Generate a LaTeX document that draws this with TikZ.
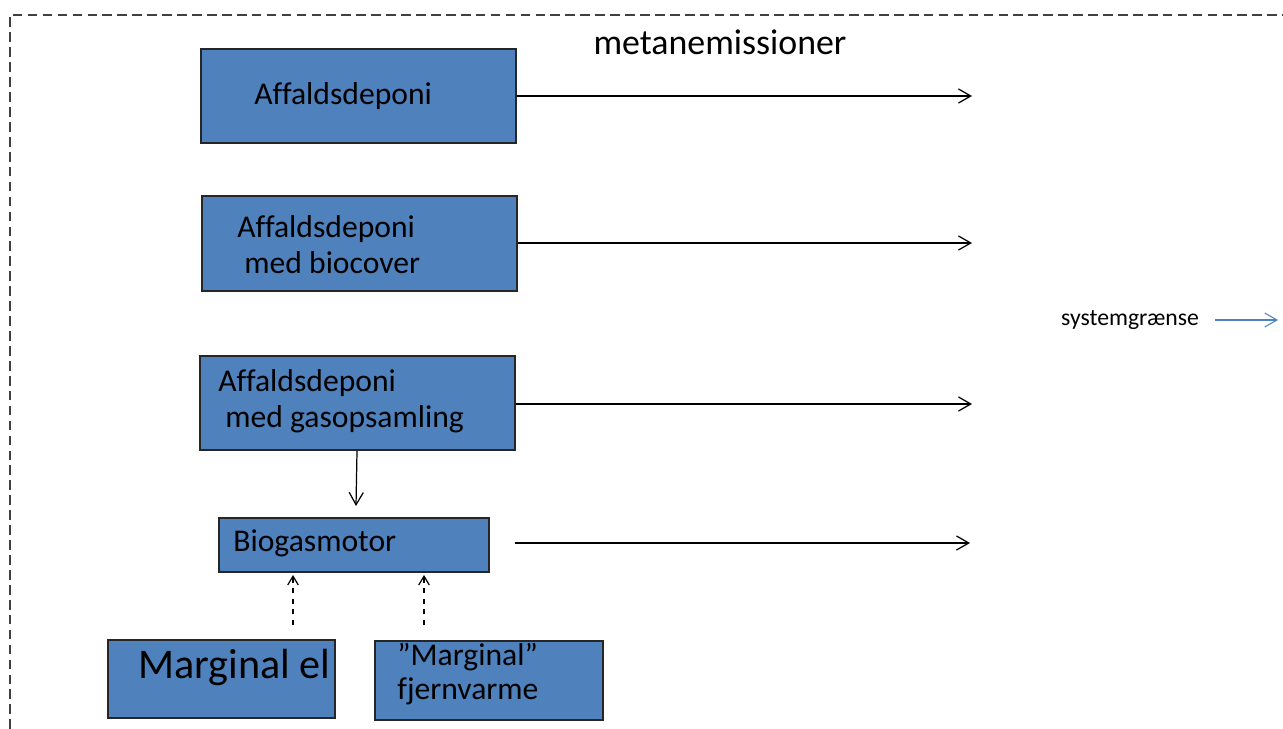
\documentclass[tikz,border=0pt]{standalone}
\usepackage{fontspec}
\setmainfont{Carlito}[Ligatures={NoCommon}]
\usetikzlibrary{arrows.meta}
\definecolor{boxblue}{HTML}{4F81BD}
\definecolor{bordergray}{HTML}{404040}

\begin{document}
\begin{tikzpicture}[x=0.02cm,y=-0.02cm,
    box/.style={draw=black!85,line width=0.8pt,fill=boxblue,inner sep=0pt},
    lbl/.style={anchor=west,inner sep=0pt,align=left,font=\fontsize{18}{20.5}\selectfont},
    flow/.style={line width=0.7pt,-{Straight Barb[length=7pt,width=8pt]}},
    feed/.style={line width=0.7pt,dashed,-{Straight Barb[length=5pt,width=6pt]}}]
\useasboundingbox (0,0) rectangle (1283,729);

% system boundary
\draw[bordergray,line width=1pt,dash pattern=on 5.5pt off 3pt] (10,729)--(10,15)--(1283,15);

\node[font=\fontsize{20.4}{24}\selectfont] (title) at (720,42) {metanemissioner};

% boxes
\node[box,minimum width=6.3cm,minimum height=1.88cm] (dep) at (358.5,96) {};
\node[box,minimum width=6.3cm,minimum height=1.9cm] (bio) at (359.5,243.5) {};
\node[box,minimum width=6.3cm,minimum height=1.88cm] (gas) at (357.5,403) {};
\node[box,minimum width=5.4cm,minimum height=1.08cm] (mot) at (354,545) {};
\node[box,minimum width=4.54cm,minimum height=1.56cm] (el) at (221.5,679) {};
\node[box,minimum width=4.56cm,minimum height=1.58cm] (fjv) at (489,680.5) {};

% texts
\node[lbl] (depT) at (254,96) {Affaldsdeponi};
\node[lbl] (bioT) at (237,245) {Affaldsdeponi\\\hspace*{4pt}med biocover};
\node[lbl] (gasT) at (218,401) {Affaldsdeponi\\\hspace*{4pt}med gasopsamling};
\node[lbl] (motT) at (233,543) {Biogasmotor};
\node[lbl,font=\fontsize{24}{28}\selectfont] (elT) at (138,667) {Marginal el};
\node[lbl,font=\fontsize{18}{19.3}\selectfont] (fjvT) at (397,674) {”Marginal”\\fjernvarme};

% emissions
\coordinate (depE) at (972,96);
\coordinate (bioE) at (972,243);
\coordinate (gasE) at (972,404);
\coordinate (motS) at (515,543);
\coordinate (motE) at (970,543);
\draw[flow] (dep.east) -- (depE);
\draw[flow] (bio.east|-bioE) -- (bioE);
\draw[flow] (gas.east|-gasE) -- (gasE);
\draw[flow] (motS) -- (motE);

% gas to motor
\coordinate (gasD) at (357,451);
\coordinate (motU) at (356,506);
\draw[flow] (gasD) -- (motU);

% substituted energy
\coordinate (elU) at (293,625);
\coordinate (elM) at (293,575);
\coordinate (fjvU) at (424,625);
\coordinate (fjvM) at (424,575);
\draw[feed] (elU) -- (elM);
\draw[feed] (fjvU) -- (fjvM);

% legend
\node[font=\fontsize{13.5}{15}\selectfont] (leg) at (1130,320) {systemgrænse};
\coordinate (legS) at (1215,320);
\coordinate (legE) at (1278,320);
\draw[boxblue,line width=0.6pt,-{Straight Barb[length=7pt,width=8pt]}] (legS) -- (legE);

\end{tikzpicture}
\end{document}
